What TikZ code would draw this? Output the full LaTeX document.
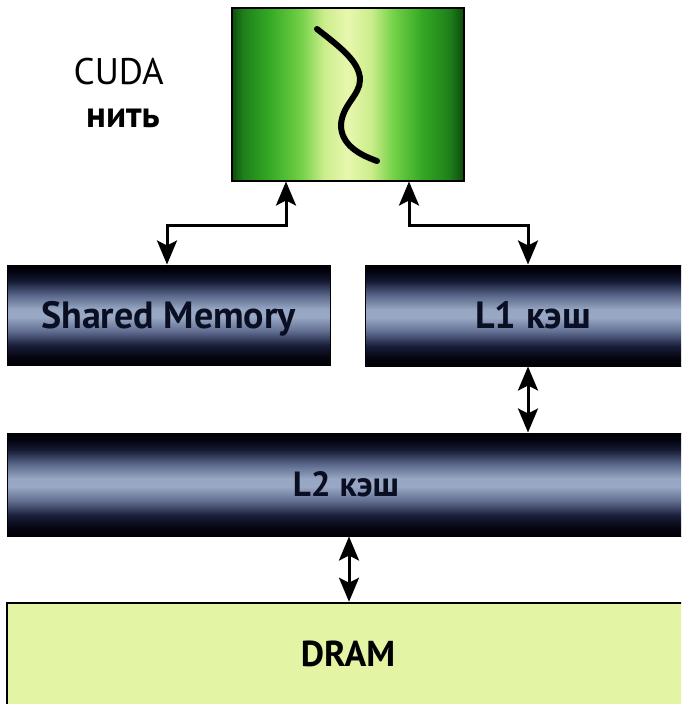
\documentclass[tikz,border=0pt]{standalone}
\usepackage{fontspec}
\usepackage{graphicx}
\setmainfont{PT Sans}
\usetikzlibrary{arrows.meta}

\pgfdeclareverticalshading{barshade}{100bp}{%
 rgb(0bp)=(0,0,0.02); rgb(25bp)=(0,0,0.02); rgb(29bp)=(0.02,0.02,0.06);
 rgb(35bp)=(0.10,0.12,0.23); rgb(42bp)=(0.38,0.43,0.57); rgb(49bp)=(0.60,0.66,0.77);
 rgb(53bp)=(0.59,0.65,0.76); rgb(60bp)=(0.35,0.40,0.54); rgb(67bp)=(0.08,0.10,0.20);
 rgb(72bp)=(0.01,0.01,0.05); rgb(75bp)=(0,0,0.02); rgb(100bp)=(0,0,0.02)}

\pgfdeclarehorizontalshading{greenshade}{100bp}{%
 rgb(0bp)=(0.05,0.30,0.05); rgb(25bp)=(0.05,0.30,0.05); rgb(27.5bp)=(0.12,0.50,0.10);
 rgb(33bp)=(0.20,0.66,0.14); rgb(40bp)=(0.45,0.82,0.28); rgb(45bp)=(0.80,0.93,0.55);
 rgb(50bp)=(0.91,0.97,0.68); rgb(55bp)=(0.80,0.93,0.55); rgb(60bp)=(0.45,0.82,0.28);
 rgb(66bp)=(0.20,0.66,0.14); rgb(72bp)=(0.12,0.50,0.10); rgb(75bp)=(0.05,0.30,0.05);
 rgb(100bp)=(0.05,0.30,0.05)}

\definecolor{bartext}{RGB}{10,14,34}
\definecolor{dramfill}{RGB}{228,244,165}

\begin{document}
\begin{tikzpicture}[x=1pt,y=-1pt,
  bar/.style={rectangle, shading=barshade, draw=black, line width=1pt, inner sep=0pt,
    text=bartext, font=\bfseries\fontsize{38}{46}\selectfont, text height=26.5pt, text depth=0pt},
  conn/.style={{Stealth[length=24pt,width=20pt,inset=5pt]}-{Stealth[length=24pt,width=20pt,inset=5pt]},
    line width=3pt},
  lbl/.style={anchor=base east, inner sep=0pt, text=black}]
\useasboundingbox (0,0) rectangle (681,704);
\fill[white] (0,0) rectangle (681,704);
\clip (0,0) rectangle (681,704);

\node[rectangle, shading=greenshade, draw=black, line width=2pt, inner sep=0pt,
  minimum width=232pt, minimum height=173pt] (thread) at (347.5,94) {};
\draw[line width=6pt, line cap=round]
  (317,29) .. controls (340,47) and (360,62) .. (360,80)
  .. controls (360,95) and (342,105) .. (341,125)
  .. controls (341,145) and (360,155) .. (377,161);

\node[lbl, font=\fontsize{37}{44}\selectfont] (cuda) at (164,84) {CUDA};
\node[lbl, font=\bfseries\fontsize{37}{44}\selectfont] (nit) at (160,127) {нить};

\node[bar, minimum width=323pt, minimum height=100pt] (shm) at (168.5,315) {Shared Memory};
\node[bar, minimum width=336pt, minimum height=101pt] (l1) at (533,315.5) {L1 кэш};
\node[bar, minimum width=678pt, minimum height=103pt, text height=24.5pt,
  font=\bfseries\fontsize{35}{42}\selectfont] (l2) at (346,484.5) {L2 кэш};
\node[rectangle, fill=dramfill, draw=black, line width=2.5pt, inner sep=0pt,
  minimum width=682pt, minimum height=102pt, text=black, text height=25pt, text depth=0pt,
  font=\bfseries\fontsize{36}{44}\selectfont] (dram) at (348,654) {DRAM};

\draw[conn] ([xshift=-61.5pt]thread.south) -- ++(0,44) -| ([xshift=-1.5pt]shm.north);
\draw[conn] ([xshift=61.5pt]thread.south) -- ++(0,44) -| ([xshift=-5pt]l1.north);
\coordinate (c1) at ([xshift=-5pt]l1.south);
\draw[conn] (c1) -- (c1 |- l2.north);
\coordinate (c2) at ([xshift=3pt]l2.south);
\draw[conn] (c2) -- (c2 |- dram.north);
\end{tikzpicture}
\end{document}
